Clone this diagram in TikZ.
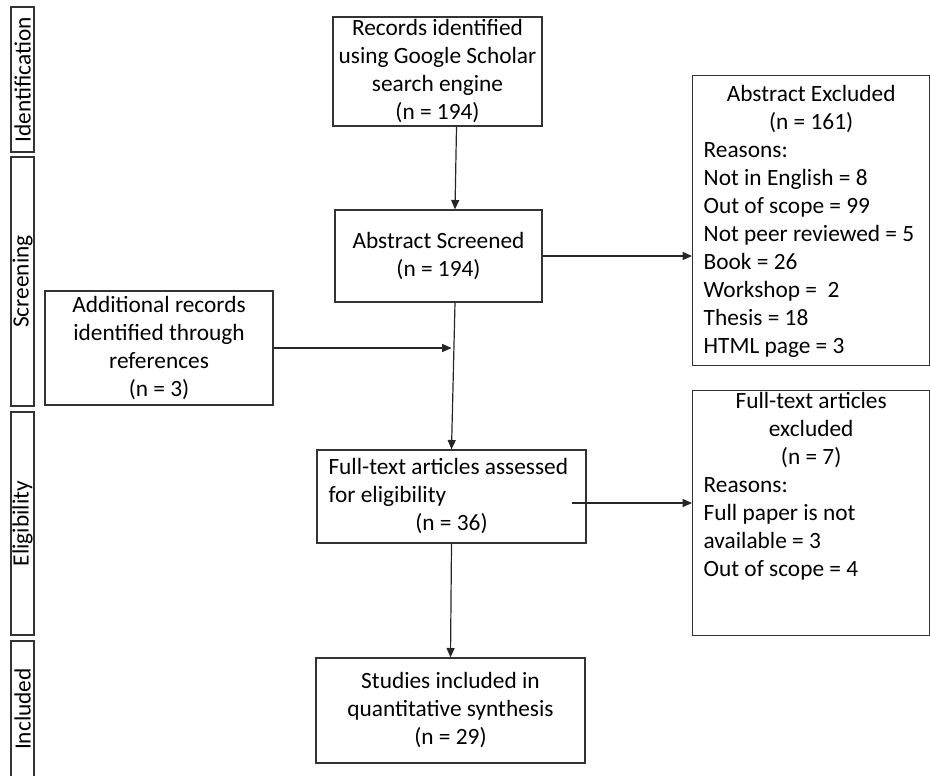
\documentclass[tikz,border=0pt]{standalone}
\usepackage{fontspec}
\setmainfont{Carlito}
\usetikzlibrary{arrows.meta}
\newcommand{\midline}[1]{\makebox[\hsize][c]{#1}}
\def\pxu{0.75pt}

\begin{document}
\begin{tikzpicture}[x=0.75pt, y=-0.75pt,
        font=\fontsize{17.5}{21}\selectfont,
        box/.style={draw=black!80, line width=1pt, inner sep=0pt},
        cbox/.style={box, align=center},
        phase/.style={draw=black!80, line width=1pt, inner sep=0pt, rotate=90, minimum height={23*\pxu}},
        arr/.style={draw=black!85, line width=0.9pt, -{Triangle[length=7pt, width=6pt]}}]
        \useasboundingbox (0,0) rectangle (930,775);
        \node[phase, minimum width={145*\pxu}] (ident) at (22.5,79.5) {Identification};
        \node[phase, minimum width={249*\pxu}] (screen) at (22.5,281.5) {Screening};
        \node[phase, minimum width={223*\pxu}] (elig) at (22.5,523.5) {Eligibility};
        \node[phase, minimum width={136*\pxu}] (incl) at (22.5,709) {Included};
        \node[cbox, minimum width={209*\pxu}, minimum height={109*\pxu}] (records) at (437.5,71.5) {Records identified\\using Google Scholar\\search engine\\(n = 194)};
        \node[cbox, minimum width={207*\pxu}, minimum height={92*\pxu}] (abscreen) at (438.5,256) {Abstract Screened\\(n = 194)};
        \node[cbox, minimum width={228*\pxu}, minimum height={114*\pxu}] (addrec) at (159,348) {Additional records\\identified through\\references\\(n = 3)};
        \node[box, anchor=north west, inner xsep=8.25pt, inner ysep=7.5pt] (absexcl) at (692,75) {\parbox[t][202.5pt][t]{161.25pt}{\raggedright
                \midline{Abstract Excluded}\\\midline{(n = 161)}\\Reasons:\\Not in English = 8\\Out of scope = 99\\Not peer reviewed = 5\\Book = 26\\Workshop = \ 2\\Thesis = 18\\HTML page = 3}};
        \node[box, minimum width={269*\pxu}, minimum height={93*\pxu}] (fulltext) at (451.5,496.5) {\parbox{184.5pt}{\raggedright
                Full-text articles assessed\\for eligibility\\\midline{(n = 36)}}};
        \node[box, anchor=north west, inner xsep=8.25pt, inner ysep=1.5pt] (ftexcl) at (692,390) {\parbox[t][180.75pt][t]{161.25pt}{\raggedright
                \midline{Full-text articles}\\\midline{excluded}\\\midline{(n = 7)}\\Reasons:\\Full paper is not\\available = 3\\Out of scope = 4}};
        \node[cbox, minimum width={269*\pxu}, minimum height={105*\pxu}] (studies) at (450.5,710.5) {Studies included in\\quantitative synthesis\\(n = 29)};
        \coordinate (ftout) at ([xshift={-15*\pxu}, yshift={-6.5*\pxu}]fulltext.east);
        \draw[arr] ([xshift={19*\pxu}]records.south) -- ([xshift={16.5*\pxu}]abscreen.north);
        \draw[arr] ([xshift={16.5*\pxu}]abscreen.south) -- (fulltext.north);
        \draw[arr] (addrec.east) -- (addrec.east -| fulltext.north);
        \draw[arr] (abscreen.east) -- (abscreen.east -| absexcl.west);
        \draw[arr] (ftout) -- (ftout -| ftexcl.west);
        \draw[arr] (fulltext.south) -- (studies.north);
\end{tikzpicture}
\end{document}
